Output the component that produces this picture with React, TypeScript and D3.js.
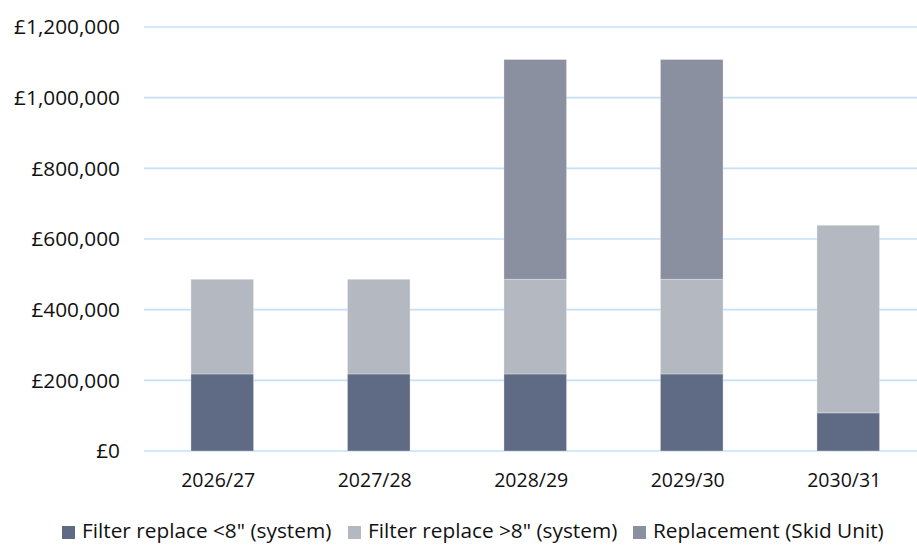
import React from "react";
import * as d3 from "d3";

// Financial years on the category axis
const years = ["2026/27", "2027/28", "2028/29", "2029/30", "2030/31"];

// Stacked cost series (GBP)
const filterUnder8 = [218000, 218000, 218000, 218000, 108000];
const filterOver8 = [268000, 268000, 268000, 268000, 531000];
const skidReplacement = [0, 0, 622000, 622000, 0];

const seriesNames = [
  'Filter replace <8" (system)',
  'Filter replace >8" (system)',
  "Replacement (Skid Unit)",
];
const seriesColors = ["#5F6B84", "#B4B8C1", "#8A909F"];

const yTicks = [0, 200000, 400000, 600000, 800000, 1000000, 1200000];

const W = 917;
const H = 545;
const FONT = "'Open Sans', 'Noto Sans', sans-serif";

export default function App() {
  const left = 144;
  const right = 926.5;
  const top = 27;
  const bottom = 451;

  const x = d3
    .scaleBand<string>()
    .domain(years)
    .range([left, right])
    .paddingInner(0.6)
    .paddingOuter(0.3);

  const y = d3.scaleLinear().domain([0, 1200000]).range([bottom, top]);

  const rows = years.map((yr, i) => ({
    year: yr,
    a: filterUnder8[i],
    b: filterOver8[i],
    c: skidReplacement[i],
  }));
  const stack = d3.stack<any>().keys(["a", "b", "c"]);
  const layers = stack(rows);

  const fmt = (v: number) => "£" + d3.format(",")(v);

  // Legend item layout: square, then label
  const legendX = [62, 348, 633];
  const legendY = 526;

  return (
    <svg
      width={W}
      height={H}
      style={{ position: "absolute", left: 0, top: 0, background: "#fff" }}
      fontFamily={FONT}
    >
      {yTicks.map((t) => (
        <g key={t}>
          <line
            x1={left}
            x2={W}
            y1={y(t)}
            y2={y(t)}
            stroke="#C6E0F7"
            strokeWidth={1.6}
          />
          <text
            x={120}
            y={y(t)}
            dy="0.35em"
            textAnchor="end"
            fontSize={20.8}
            fill="#111"
          >
            {fmt(t)}
          </text>
        </g>
      ))}

      {layers.map((layer, li) => (
        <g key={li} fill={seriesColors[li]}>
          {layer.map((d, i) =>
            d[1] - d[0] > 0 ? (
              <rect
                key={i}
                x={x(years[i])!}
                width={x.bandwidth()}
                y={y(d[1])}
                height={y(d[0]) - y(d[1])}
                stroke="rgba(255,255,255,0.3)"
                strokeWidth={1}
              />
            ) : null
          )}
        </g>
      ))}

      {years.map((yr) => (
        <text
          key={yr}
          x={x(yr)! + x.bandwidth() / 2 - 4}
          y={487}
          textAnchor="middle"
          fontSize={19.5}
          fill="#111"
        >
          {yr}
        </text>
      ))}

      {seriesNames.map((name, i) => (
        <g key={name}>
          <rect
            x={legendX[i]}
            y={legendY}
            width={13}
            height={13}
            fill={seriesColors[i]}
          />
          <text
            x={legendX[i] + 20}
            y={legendY + 12}
            fontSize={20.8}
            fill="#111"
          >
            {name}
          </text>
        </g>
      ))}
    </svg>
  );
}
